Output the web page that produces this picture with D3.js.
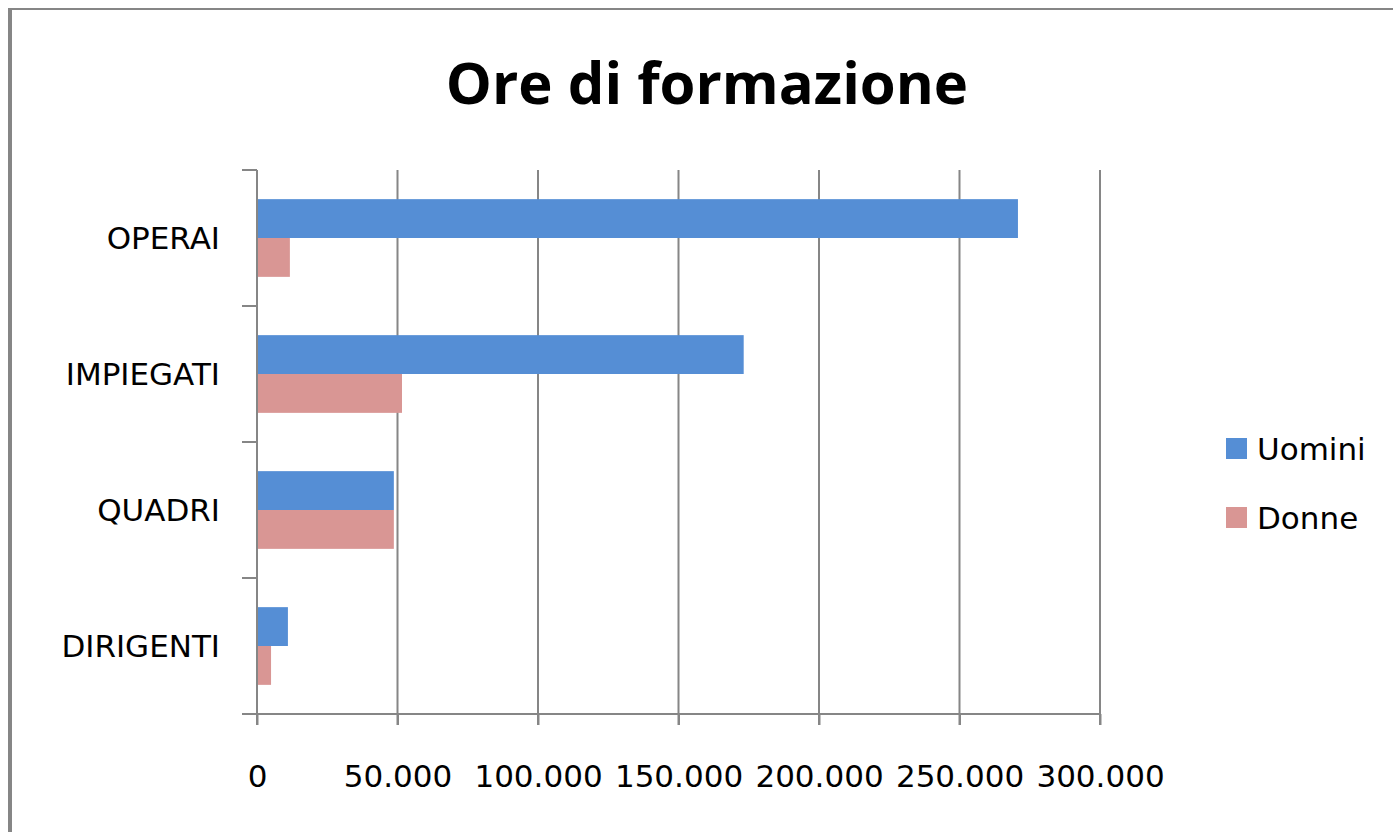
<!DOCTYPE html>
<html>
<head>
<meta charset="utf-8">
<script src="https://cdn.jsdelivr.net/npm/d3@7"></script>
<style>
  html, body { margin: 0; padding: 0; background: #fff; }
  svg { display: block; }
</style>
</head>
<body>
<div id="container"></div>
<script>
const categories = ['OPERAI', 'IMPIEGATI', 'QUADRI', 'DIRIGENTI'];
const seriesNames = ['Uomini', 'Donne'];
const uomini = [270800, 173200, 48700, 11000];
const donne = [11700, 51600, 48700, 5000];
const xTicks = [0, 50000, 100000, 150000, 200000, 250000, 300000];

const width = 1393, height = 832;
const colors = { Uomini: '#558ed5', Donne: '#d99694' };
const axisColor = '#868686';
const font = '"DejaVu Sans", sans-serif';
const titleFont = '"Open Sans", "Noto Sans", sans-serif';

const svg = d3.select('#container').append('svg')
    .attr('width', width)
    .attr('height', height);

svg.append('rect').attr('width', width).attr('height', height).attr('fill', '#fff');

/* outer frame (only left and top visible) */
svg.append('line').attr('x1', 10).attr('x2', 10).attr('y1', 8).attr('y2', height)
    .attr('stroke', axisColor).attr('stroke-width', 4);
svg.append('line').attr('x1', 8).attr('x2', width).attr('y1', 9).attr('y2', 9)
    .attr('stroke', axisColor).attr('stroke-width', 2);

const plot = { left: 257, right: 1100, top: 170, bottom: 714 };

const x = d3.scaleLinear().domain([0, 300000]).range([plot.left, plot.right]);
const y = d3.scaleBand().domain(categories).range([plot.top, plot.bottom]).padding(0);

const bw = y.bandwidth();
const gap = bw * 1.5 / 3.5;
const ySub = d3.scaleBand().domain(seriesNames).range([gap / 2, bw - gap / 2]);

const rows = categories.map((c, i) => ({ cat: c, Uomini: uomini[i], Donne: donne[i] }));

const fmt = (v) => d3.format(',')(v).replace(/,/g, '.');

/* gridlines */
svg.append('g').attr('class', 'grid')
    .selectAll('line')
    .data(xTicks.slice(1))
    .enter().append('line')
    .attr('x1', (d) => x(d)).attr('x2', (d) => x(d))
    .attr('y1', plot.top).attr('y2', plot.bottom + 11)
    .attr('stroke', axisColor).attr('stroke-width', 2);

/* bars */
const groups = svg.append('g').attr('class', 'bars')
    .selectAll('g')
    .data(rows)
    .enter().append('g')
    .attr('transform', (d) => `translate(0,${y(d.cat)})`);

groups.selectAll('rect')
    .data((d) => seriesNames.map((s) => ({ s: s, v: d[s] })))
    .enter().append('rect')
    .attr('x', x(0))
    .attr('y', (d) => ySub(d.s))
    .attr('width', (d) => x(d.v) - x(0))
    .attr('height', ySub.bandwidth())
    .attr('fill', (d) => colors[d.s]);

/* x axis */
const xAxis = svg.append('g')
    .attr('transform', `translate(0,${plot.bottom})`)
    .call(d3.axisBottom(x).tickValues(xTicks).tickFormat(fmt).tickSize(11).tickPadding(40).tickSizeOuter(0));
xAxis.select('.domain').remove();
xAxis.append('line').attr('x1', plot.left - 15).attr('x2', plot.right).attr('y1', 0).attr('y2', 0)
    .attr('stroke', axisColor).attr('stroke-width', 2);
xAxis.selectAll('.tick line').attr('stroke', axisColor).attr('stroke-width', 2);
xAxis.selectAll('.tick text')
    .attr('fill', '#000')
    .style('font-family', font)
    .style('font-size', '31px');

/* y axis */
const yAxis = svg.append('g').attr('transform', `translate(${plot.left},0)`);
yAxis.append('line').attr('x1', 0).attr('x2', 0).attr('y1', plot.top).attr('y2', plot.bottom + 11)
    .attr('stroke', axisColor).attr('stroke-width', 2);
yAxis.selectAll('.ytick')
    .data(categories.map((c) => y(c)))
    .enter().append('line')
    .attr('x1', -15).attr('x2', 0)
    .attr('y1', (d) => d).attr('y2', (d) => d)
    .attr('stroke', axisColor).attr('stroke-width', 2);
yAxis.selectAll('.ylabel')
    .data(categories)
    .enter().append('text')
    .attr('x', -37)
    .attr('y', (d) => y(d) + bw / 2)
    .attr('dy', '0.36em')
    .attr('text-anchor', 'end')
    .style('font-family', font)
    .style('font-size', '31px')
    .text((d) => d);

/* title */
svg.append('text')
    .attr('x', 707)
    .attr('y', 104)
    .attr('text-anchor', 'middle')
    .style('font-family', titleFont)
    .style('font-weight', 'bold')
    .style('font-size', '58px')
    .text('Ore di formazione');

/* legend */
const legend = svg.append('g').attr('transform', 'translate(1226,438)');
const li = legend.selectAll('g')
    .data(seriesNames)
    .enter().append('g')
    .attr('transform', (d, i) => `translate(0,${i * 69})`);
li.append('rect').attr('width', 21).attr('height', 21).attr('fill', (d) => colors[d]);
li.append('text')
    .attr('x', 31).attr('y', 11).attr('dy', '0.36em')
    .style('font-family', font)
    .style('font-size', '31px')
    .text((d) => d);
</script>
</body>
</html>
